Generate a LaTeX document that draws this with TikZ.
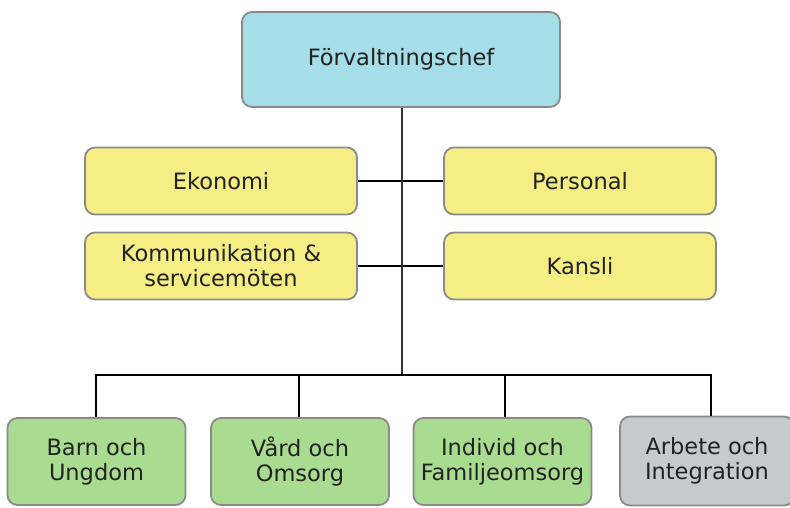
\documentclass[tikz,border=0pt]{standalone}
\usepackage{fontspec}
\setmainfont{DejaVu Sans}
\definecolor{boxborder}{HTML}{8A8A8A}
\definecolor{chefcol}{HTML}{A6DEE8}
\definecolor{yelcol}{HTML}{F4EE84}
\definecolor{grncol}{HTML}{A9DC90}
\definecolor{grycol}{HTML}{C6CACA}
\definecolor{txtcol}{HTML}{222222}
\definecolor{linecol}{HTML}{333333}
\begin{document}
\begin{tikzpicture}[x=1pt,y=-1pt,
  orgbox/.style={draw=boxborder,line width=1.8pt,rounded corners=10pt,align=center,
    text=txtcol,font=\fontsize{22.5}{25}\selectfont,inner sep=0pt},
  chefbox/.style={orgbox,fill=chefcol,minimum width=318pt,minimum height=95pt},
  staffbox/.style={orgbox,fill=yelcol,minimum width=272pt,minimum height=67pt},
  unitbox/.style={orgbox,fill=grncol,minimum width=178pt,minimum height=87pt},
  greybox/.style={orgbox,fill=grycol,minimum width=174pt,minimum height=89pt},
  mainline/.style={draw=linecol,line width=2.8pt},
  thinline/.style={draw=black,line width=1.8pt}]
\useasboundingbox (0,0) rectangle (790,507);
\clip (0,0) rectangle (790,507);
\node[chefbox] (chef) at (401,59.5) {Förvaltningschef};
\node[staffbox] (eko) at (221,181) {Ekonomi};
\node[staffbox] (pers) at (580,181) {Personal};
\node[staffbox] (komm) at (221,266) {Kommunikation \&\\servicemöten};
\node[staffbox] (kans) at (580,266) {Kansli};
\node[unitbox] (barn) at (96.5,461.5) {Barn och\\Ungdom};
\node[unitbox] (vard) at (300,461.5) {Vård och\\Omsorg};
\node[unitbox] (ind) at (502.5,461.5) {Individ och\\Familjeomsorg};
\node[greybox] (arb) at (707,461) {Arbete och\\Integration};
\coordinate (bus) at (402,375);
\coordinate (busL) at (96,375);
\coordinate (busR) at (711,375);
\draw[thinline] (eko.east) -- (pers.west);
\draw[thinline] (komm.east) -- (kans.west);
\draw[mainline] (chef.south -| bus) -- (bus);
\draw[thinline] (busL |- barn.north) -- (busL) -- (busR) -- (busR |- arb.north);
\draw[thinline] (vard.north -| 299,0) -- (299,375);
\draw[thinline] (ind.north -| 505,0) -- (505,375);
\end{tikzpicture}
\end{document}
